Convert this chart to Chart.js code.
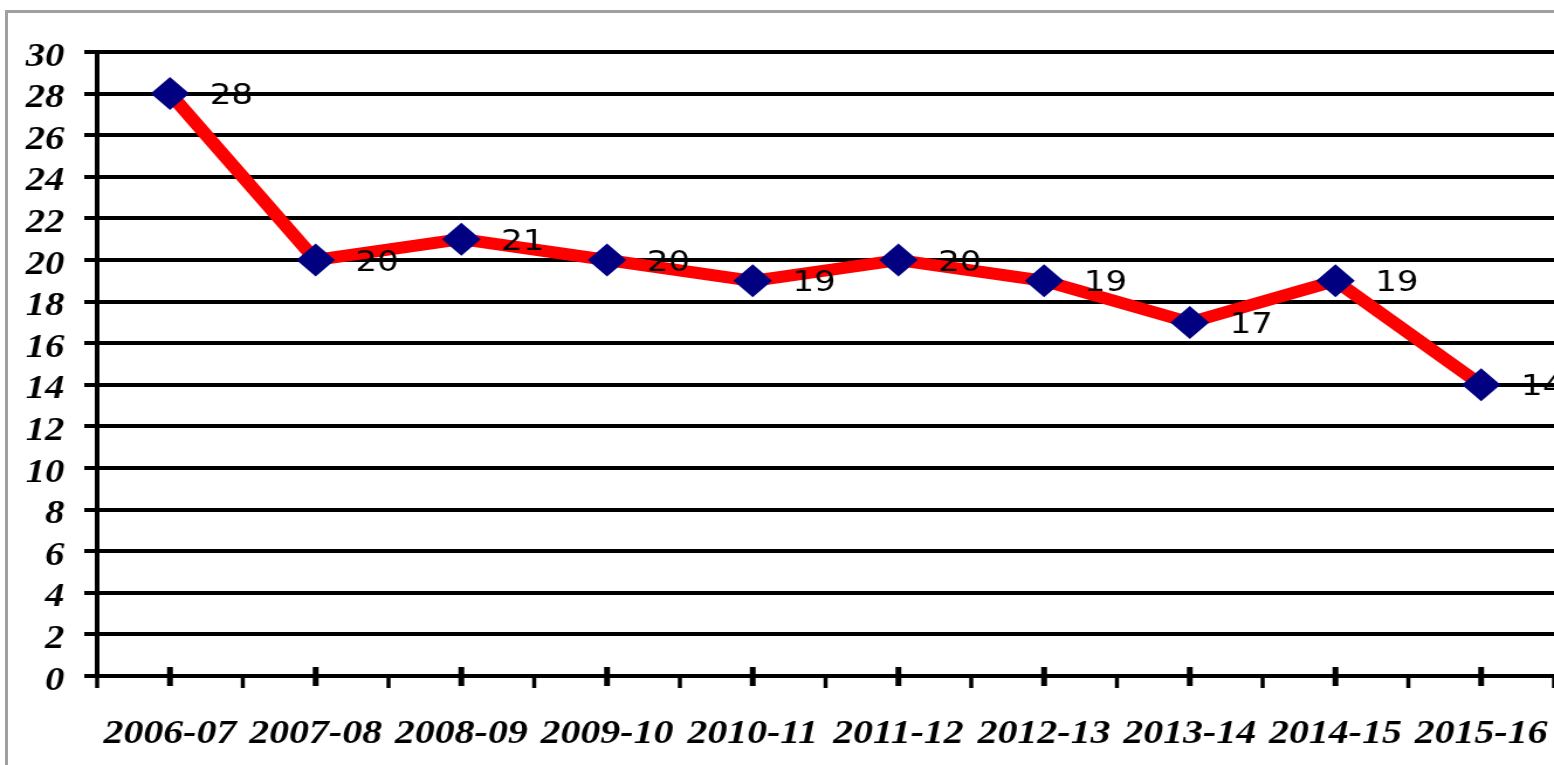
<!DOCTYPE html>
<html>
<head>
<meta charset="utf-8">
<script src="https://cdn.jsdelivr.net/npm/chart.js@4.4.1/dist/chart.umd.min.js"></script>
<style>
  html, body { margin: 0; padding: 0; background: #fff; overflow: hidden; }
  #frame { position: absolute; left: 5px; top: 10px; width: 1620px; height: 820px; border: 3px solid #a0a0a0; }
  #chart { position: absolute; left: 0; top: 0; }
</style>
</head>
<body>
<div id="frame"></div>
<!-- drawn narrower, then stretched sideways like the original picture -->
<canvas id="chart" width="1328" height="765" style="width:1554px;height:765px"></canvas>
<script>
const seasons = ['2006-07', '2007-08', '2008-09', '2009-10', '2010-11',
                 '2011-12', '2012-13', '2013-14', '2014-15', '2015-16'];
const values = [28, 20, 21, 20, 19, 20, 19, 17, 19, 14];
const yMin = 0;
const yMax = 30;
const yStep = 2;

const serif = '"Liberation Serif", "Times New Roman", serif';

// x axis tick marks: long ones at category centres, short ones between
const xTickMarks = {
    id: 'xTickMarks',
    afterDraw(chart) {
        const ctx = chart.ctx;
        const xScale = chart.scales.x;
        const bottom = chart.chartArea.bottom;
        ctx.save();
        ctx.strokeStyle = '#000';
        ctx.lineWidth = 3.5;
        for (let i = 0; i <= seasons.length; i++) {
            const px = xScale.getPixelForValue(i - 0.5);
            ctx.beginPath();
            ctx.moveTo(px, bottom);
            ctx.lineTo(px, bottom + 12);
            ctx.stroke();
        }
        ctx.lineWidth = 5;
        seasons.forEach((s, i) => {
            const px = xScale.getPixelForValue(i);
            ctx.beginPath();
            ctx.moveTo(px, bottom - 9);
            ctx.lineTo(px, bottom + 10);
            ctx.stroke();
        });
        ctx.restore();
    }
};

// value labels to the right of each marker
const pointLabels = {
    id: 'pointLabels',
    afterDatasetsDraw(chart) {
        const ctx = chart.ctx;
        const meta = chart.getDatasetMeta(0);
        ctx.save();
        ctx.font = '29px "DejaVu Sans", sans-serif';
        ctx.fillStyle = '#000';
        ctx.textAlign = 'left';
        ctx.textBaseline = 'middle';
        meta.data.forEach((pt, i) => {
            ctx.fillText(String(values[i]), pt.x + 34, pt.y + 3);
        });
        ctx.restore();
    }
};

new Chart(document.getElementById('chart'), {
    type: 'line',
    data: {
        labels: seasons,
        datasets: [{
            data: values,
            borderColor: '#ff0000',
            borderWidth: 12,
            tension: 0,
            pointStyle: 'rectRot',
            pointRadius: 16.5,
            pointBackgroundColor: '#000080',
            pointBorderColor: '#000080',
            pointBorderWidth: 0
        }]
    },
    options: {
        responsive: false,
        animation: false,
        devicePixelRatio: 1,
        layout: { autoPadding: false, padding: { top: 52, left: 0, right: 0, bottom: 0 } },
        plugins: {
            legend: { display: false },
            tooltip: { enabled: false }
        },
        scales: {
            x: {
                offset: true,
                grid: {
                    drawOnChartArea: false,
                    drawTicks: true,
                    tickLength: 38,
                    tickColor: 'rgba(0,0,0,0)'
                },
                border: { display: true, color: '#000', width: 4 },
                ticks: {
                    color: '#000',
                    font: { family: serif, size: 34, style: 'italic', weight: 'bold' },
                    padding: 0,
                    maxRotation: 0,
                    autoSkip: false
                },
                afterFit(scale) { scale.height = 89; }
            },
            y: {
                min: yMin,
                max: yMax,
                ticks: {
                    stepSize: yStep,
                    autoSkip: false,
                    color: '#000',
                    font: { family: serif, size: 33, style: 'italic', weight: 'bold' },
                    padding: 17,
                    labelOffset: 5
                },
                grid: { color: '#000', lineWidth: 4, tickLength: 11 },
                border: { display: true, color: '#000', width: 4 },
                afterFit(scale) { scale.width = 83; }
            }
        }
    },
    plugins: [xTickMarks, pointLabels]
});
</script>
</body>
</html>
